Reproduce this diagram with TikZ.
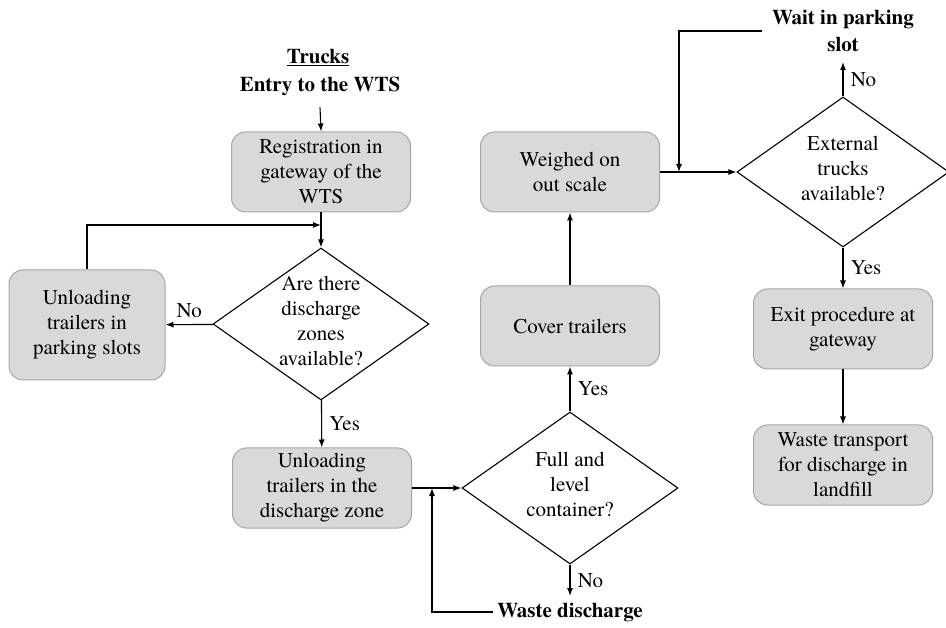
\documentclass[tikz,border=0pt]{standalone}
\usepackage{fontspec}
\setmainfont{texgyretermes}[Extension=.otf, UprightFont=*-regular, BoldFont=*-bold]
\usepackage{tikz}
\usetikzlibrary{shapes.geometric, positioning, arrows.meta}

\newcommand{\qtext}[1]{\smash{\raisebox{-4pt}{\begin{tabular}{@{}c@{}}#1\end{tabular}}}}

\begin{document}
\begin{tikzpicture}[x=1pt, y=-1pt, line width=1.1pt, >={Latex[length=8pt,width=6pt]},
        every node/.style={font=\fontsize{21}{25}\selectfont},
        box/.style={rectangle, rounded corners=14pt, draw=black!35, fill=black!15, line width=1pt, align=center, minimum width=179, minimum height=80},
        question/.style={diamond, draw, inner sep=0pt, minimum width=216, minimum height=152},
        title/.style={font=\fontsize{21}{27}\selectfont\bfseries, align=center}]
        \useasboundingbox (0, 0) rectangle (946, 628);

        \node[title] (trucks) at (318, 58) {\underline{Trucks}};
        \node[title] (entry) at (320, 86) {Entry to the WTS};
        \node[box] (reg) at (321, 172) {Registration in\\gateway of the\\WTS};
        \node[question] (zones) at (321, 324) {\qtext{Are there\\discharge\\zones\\available?}};
        \node[box, minimum width=156, minimum height=110] (park) at (87, 325) {Unloading\\trailers in\\parking slots};
        \node[box] (unload) at (322, 488) {Unloading\\trailers in the\\discharge zone};
        \node[question] (full) at (570, 488) {\qtext{Full and\\level\\container?}};
        \node[title] (waste) at (570, 612) {Waste discharge};
        \node[box] (cover) at (570, 326) {Cover trailers};
        \node[box] (weigh) at (570, 172) {Weighed on\\out scale};
        \node[question, minimum width=212, minimum height=150] (trucksq) at (843, 172) {\qtext{External\\trucks\\available?}};
        \node[title] (wait) at (843, 31) {Wait in parking\\slot};
        \node[box] (exit) at (843, 329) {Exit procedure at\\gateway};
        \node[box] (transport) at (843, 465) {Waste transport\\for discharge in\\landfill};

        \coordinate (back) at (321, 225);
        \coordinate (join) at (432, 488);
        \coordinate (end) at (570, 596);
        \coordinate (merge) at (679, 172);
        \coordinate (stay) at (843, 62);

        \draw[->] (entry.south) ++(0, 8) -- (reg.north);
        \draw[->] (reg) -- (zones);
        \draw[->] (zones) -- node[above=3pt] {No} (park);
        \draw[->] (park.north) |- (back);
        \draw[->] (zones) -- node[right=4pt] {Yes} (unload);
        \draw[->] (unload) -- (full);
        \draw[->] (waste.west) -| (join);
        \draw[->] (full.south) -- node[right=4pt] {No} (end);
        \draw[->] (full) -- node[right=4pt] {Yes} (cover);
        \draw[->] (cover) -- (weigh);
        \draw[->] (weigh) -- (trucksq);
        \draw[->] (wait.west) ++(-6, 0) -| (merge);
        \draw[->] (trucksq.north) -- node[right=4pt] {No} (stay);
        \draw[->] (trucksq) -- node[right=4pt] {Yes} (exit);
        \draw[->] (exit) -- (transport);
    \end{tikzpicture}
\end{document}
